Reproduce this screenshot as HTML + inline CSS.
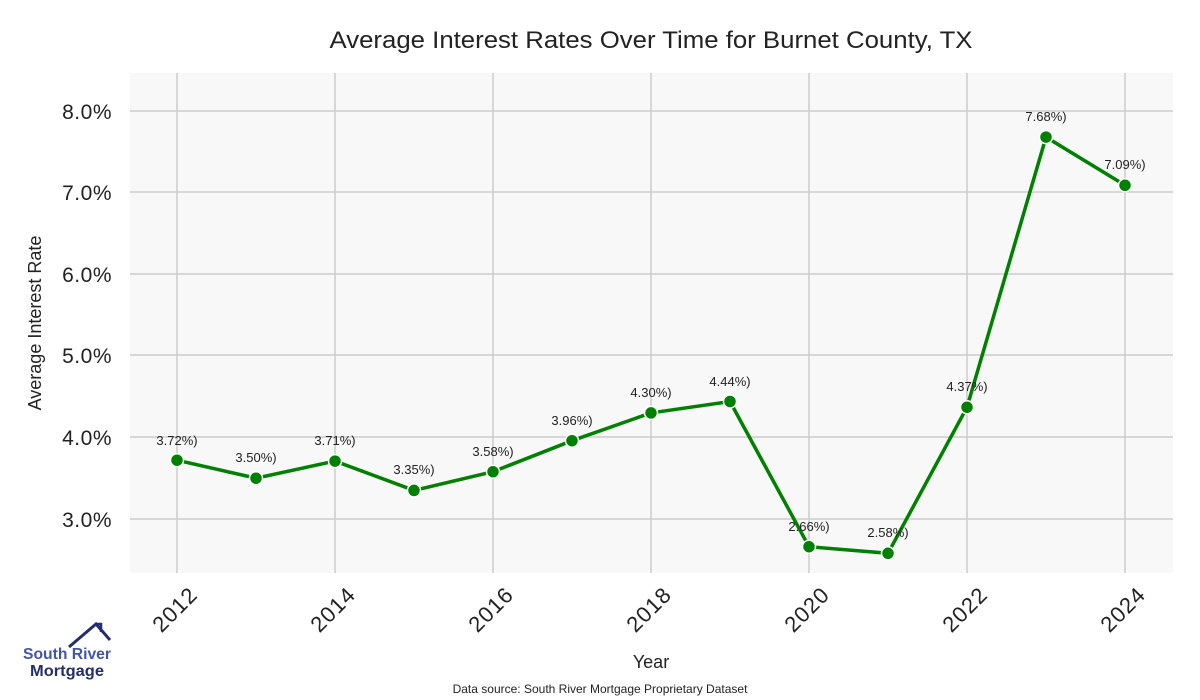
<!DOCTYPE html>
<html><head><meta charset="utf-8"><style>body{margin:0;background:#fff}svg{display:block;font-family:"Liberation Sans",sans-serif}</style></head><body>
<svg width="1200" height="700" viewBox="0 0 1200 700">
<rect x="130" y="73" width="1043" height="500" fill="#f8f8f8"/>
<g stroke="#cccccc" stroke-width="1.5">
<line x1="177" y1="73" x2="177" y2="573"/><line x1="335" y1="73" x2="335" y2="573"/><line x1="493" y1="73" x2="493" y2="573"/><line x1="651" y1="73" x2="651" y2="573"/><line x1="809" y1="73" x2="809" y2="573"/><line x1="967" y1="73" x2="967" y2="573"/><line x1="1125" y1="73" x2="1125" y2="573"/>
<line x1="130" y1="111" x2="1173" y2="111"/><line x1="130" y1="192" x2="1173" y2="192"/><line x1="130" y1="274" x2="1173" y2="274"/><line x1="130" y1="355" x2="1173" y2="355"/><line x1="130" y1="437" x2="1173" y2="437"/><line x1="130" y1="519" x2="1173" y2="519"/>
</g>
<text x="651" y="48" font-size="24" text-anchor="middle" fill="#222" textLength="643" lengthAdjust="spacingAndGlyphs">Average Interest Rates Over Time for Burnet County, TX</text>
<g font-size="21" fill="#222" text-anchor="end" letter-spacing="0.5">
<text x="112" y="119">8.0%</text><text x="112" y="200">7.0%</text><text x="112" y="282">6.0%</text><text x="112" y="363">5.0%</text><text x="112" y="445">4.0%</text><text x="112" y="527">3.0%</text>
</g>
<text transform="translate(41,323) rotate(-90)" font-size="18" text-anchor="middle" fill="#222">Average Interest Rate</text>
<g font-size="22" fill="#222" text-anchor="end" letter-spacing="1">
<text transform="translate(199,596) rotate(-45)">2012</text><text transform="translate(357,596) rotate(-45)">2014</text><text transform="translate(515,596) rotate(-45)">2016</text><text transform="translate(673,596) rotate(-45)">2018</text><text transform="translate(831,596) rotate(-45)">2020</text><text transform="translate(989,596) rotate(-45)">2022</text><text transform="translate(1147,596) rotate(-45)">2024</text>
</g>
<text x="651" y="668" font-size="18" text-anchor="middle" fill="#222">Year</text>
<text x="600" y="693" font-size="12" text-anchor="middle" fill="#222">Data source: South River Mortgage Proprietary Dataset</text>
<polyline fill="none" stroke="#008000" stroke-width="3.5" points="177,460.2 256,478.2 335,461.1 414,490.4 493,471.7 572,440.7 651,412.9 730,401.5 809,546.7 888,553.3 967,407.2 1046,137.1 1125,185.3"/>
<g fill="#008000" stroke="#fff" stroke-width="1.5">
<circle cx="177" cy="460.2" r="6.5"/><circle cx="256" cy="478.2" r="6.5"/><circle cx="335" cy="461.1" r="6.5"/><circle cx="414" cy="490.4" r="6.5"/><circle cx="493" cy="471.7" r="6.5"/><circle cx="572" cy="440.7" r="6.5"/><circle cx="651" cy="412.9" r="6.5"/><circle cx="730" cy="401.5" r="6.5"/><circle cx="809" cy="546.7" r="6.5"/><circle cx="888" cy="553.3" r="6.5"/><circle cx="967" cy="407.2" r="6.5"/><circle cx="1046" cy="137.1" r="6.5"/><circle cx="1125" cy="185.3" r="6.5"/>
</g>
<g font-size="13" fill="#222" text-anchor="middle">
<text x="177" y="445">3.72%)</text><text x="256" y="462">3.50%)</text><text x="335" y="445">3.71%)</text><text x="414" y="474">3.35%)</text><text x="493" y="456">3.58%)</text><text x="572" y="425">3.96%)</text><text x="651" y="397">4.30%)</text><text x="730" y="386">4.44%)</text><text x="809" y="531">2.66%)</text><text x="888" y="537">2.58%)</text><text x="967" y="391">4.37%)</text><text x="1046" y="121">7.68%)</text><text x="1125" y="169">7.09%)</text>
</g>
<polyline fill="none" stroke="#262d6b" stroke-width="3" points="69,647 96,624 110,640"/>
<polyline fill="none" stroke="#262d6b" stroke-width="2.5" points="96,624 101,624 101,632"/>
<text x="67" y="659" font-size="16" font-weight="bold" text-anchor="middle" fill="#4455a8" textLength="88" lengthAdjust="spacingAndGlyphs">South River</text>
<text x="67" y="676" font-size="16" font-weight="bold" text-anchor="middle" fill="#262d6b" textLength="74" lengthAdjust="spacingAndGlyphs">Mortgage</text>
</svg>
</body></html>
